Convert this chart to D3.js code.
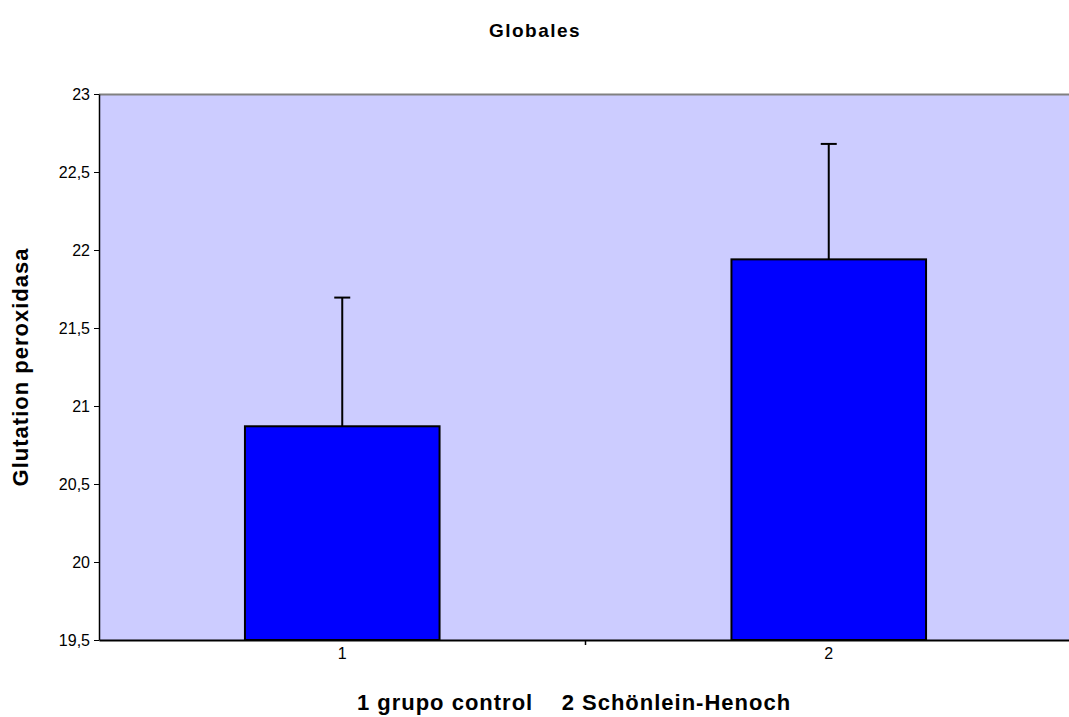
<!DOCTYPE html>
<html><head><meta charset="utf-8">
<script src="https://cdn.jsdelivr.net/npm/d3@7"></script>
<style>body{margin:0;background:#fff}svg{display:block}text{font-family:"Liberation Sans",Arial,sans-serif}</style>
</head><body>
<script>
const categories = ["1", "2"];
const means = [20.87, 21.94];
const errTops = [21.695, 22.68];
const yTicks = [19.5, 20, 20.5, 21, 21.5, 22, 22.5, 23];

const W = 1069, H = 717;
const m = {left: 99, top: 94, right: -3, bottom: 77};
const svg = d3.select("body").append("svg").attr("width", W).attr("height", H);
const x = d3.scaleBand().domain(categories).range([m.left, W - m.right]).paddingInner(0).paddingOuter(0);
const y = d3.scaleLinear().domain([19.5, 23]).range([H - m.bottom, m.top]);

svg.append("rect").attr("x", m.left).attr("y", m.top).attr("width", W - m.right - m.left)
  .attr("height", y(19.5) - m.top).attr("fill", "#ccccff");
svg.append("line").attr("x1", m.left).attr("x2", W).attr("y1", m.top + 0.5).attr("y2", m.top + 0.5)
  .attr("stroke", "#808080").attr("stroke-width", 2);

const bw = x.bandwidth() * 0.4;
categories.forEach((c, i) => {
  const cx = x(c) + x.bandwidth() / 2;
  svg.append("line").attr("x1", cx).attr("x2", cx).attr("y1", y(means[i])).attr("y2", y(errTops[i]))
    .attr("stroke", "#000").attr("stroke-width", 2);
  svg.append("line").attr("x1", cx - 8).attr("x2", cx + 8).attr("y1", y(errTops[i])).attr("y2", y(errTops[i]))
    .attr("stroke", "#000").attr("stroke-width", 2);
  svg.append("rect").attr("x", cx - bw / 2).attr("y", y(means[i])).attr("width", bw)
    .attr("height", y(19.5) - y(means[i])).attr("fill", "#0000ff").attr("stroke", "#000").attr("stroke-width", 2);
});

const fmt = d => String(d).replace(".", ",");
const ya = svg.append("g").attr("transform", `translate(${m.left},0)`)
  .call(d3.axisLeft(y).tickValues(yTicks).tickFormat(fmt).tickSize(5).tickSizeOuter(0));
ya.select(".domain").attr("stroke", "#000").attr("stroke-width", 1.5);
ya.selectAll(".tick line").attr("stroke", "#000");
ya.selectAll("text").attr("font-size", 16).attr("fill", "#000").attr("font-family", "Liberation Sans, Arial, sans-serif").attr("dx", -1);

const xa = svg.append("g").attr("transform", `translate(0,${y(19.5)})`)
  .call(d3.axisBottom(x).tickSize(0).tickSizeOuter(0));
xa.select(".domain").attr("stroke", "#000").attr("stroke-width", 2);
xa.selectAll("text").attr("font-size", 16).attr("fill", "#000").attr("dy", 16).attr("font-family", "Liberation Sans, Arial, sans-serif");
svg.append("line").attr("x1", x("2")).attr("x2", x("2")).attr("y1", y(19.5)).attr("y2", y(19.5) + 5)
  .attr("stroke", "#000").attr("stroke-width", 1.5);

svg.append("text").attr("x", 535).attr("y", 37).attr("text-anchor", "middle")
  .attr("font-size", 19).attr("font-weight", "bold").attr("letter-spacing", 1.5).text("Globales");
svg.append("text").attr("transform", `translate(28,${(m.top + y(19.5)) / 2}) rotate(-90)`)
  .attr("text-anchor", "middle").attr("font-size", 22).attr("font-weight", "bold").attr("letter-spacing", 1).text("Glutation peroxidasa");
svg.append("text").attr("x", 574).attr("y", 710).attr("text-anchor", "middle")
  .attr("font-size", 22).attr("font-weight", "bold").attr("letter-spacing", 1).attr("xml:space", "preserve")
  .text("1 grupo control    2 Schönlein-Henoch");
</script>
</body></html>
